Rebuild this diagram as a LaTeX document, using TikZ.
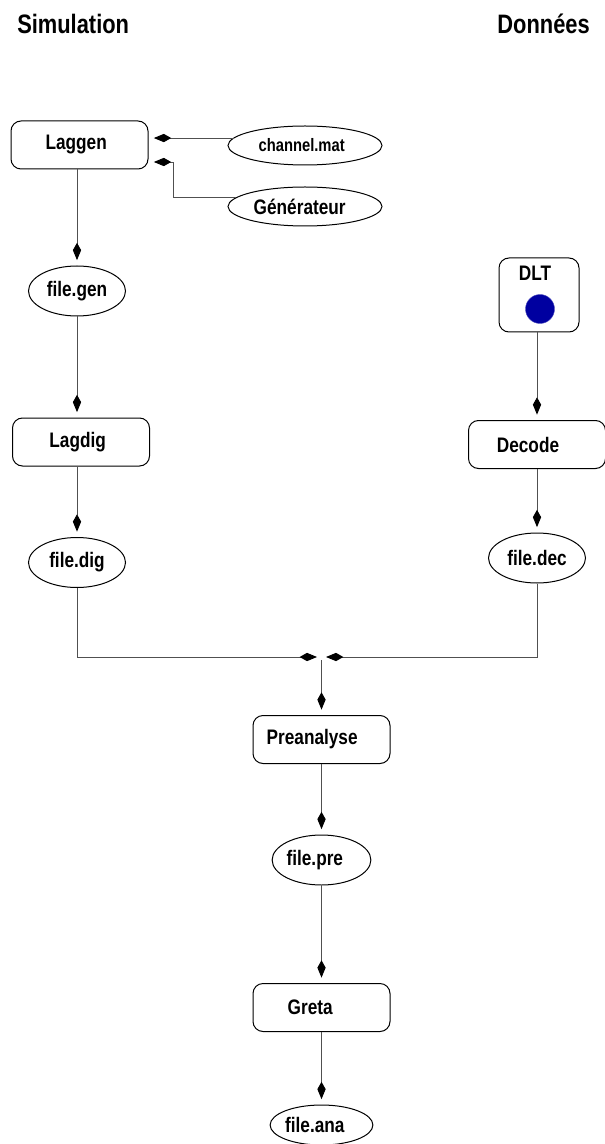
\documentclass[tikz,border=0pt]{standalone}
\usepackage{fontspec}
\setmainfont{Liberation Sans}
\newfontfamily\narrowsans{Liberation Sans}[FakeStretch=0.82]
\usetikzlibrary{arrows.meta,shapes.geometric}
\definecolor{conn}{RGB}{80,80,80}
\definecolor{dotblue}{RGB}{0,0,160}
\tikzset{
  txt/.style={font=\narrowsans\bfseries\fontsize{15.75}{18}\selectfont},
  ttl/.style={font=\narrowsans\bfseries\fontsize{20}{24}\selectfont},
  smalltxt/.style={font=\narrowsans\bfseries\fontsize{13.5}{16}\selectfont},
  box/.style={txt, draw=black, line width=0.75pt, rounded corners=7.5pt,
    minimum width=102.75pt, minimum height=36pt, inner sep=0pt},
  oval/.style={txt, ellipse, draw=black, line width=0.75pt,
    minimum width=72.75pt, minimum height=37.5pt, inner sep=0pt},
  bigoval/.style={oval, minimum width=115.5pt, minimum height=29.25pt},
  arr/.style={draw=conn, line width=0.7pt,
    -{Kite[length=13pt,width=6.2pt,inset=5.5pt,color=black]}, shorten >=4pt},
}
\begin{document}
\begin{tikzpicture}[x=0.75pt,y=-0.75pt]
\useasboundingbox (0,0) rectangle (605,1144);
% titles
\node[ttl, anchor=base west, inner sep=0pt] (sim) at (17,34) {Simulation};
\node[ttl, anchor=base east, inner sep=0pt] (don) at (590,34) {Données};
% left column
\node[box] (laggen) at (79.5,145) {Laggen\kern5pt};
\node[bigoval, smalltxt] (cm) at (305,145.5) {channel.mat\kern5pt};
\node[bigoval] (gen) at (305,206.5) {Générateur\kern8pt};
\node[oval] (fgen) at (77,291) {file.gen};
\node[box] (lagdig) at (81,442) {Lagdig\kern5pt};
\node[oval] (fdig) at (77,562.5) {file.dig};
% right column
\node[box, minimum width=60pt, minimum height=55.5pt] (dlt) at (539,295) {};
\node[txt, inner sep=0pt] (dlttxt) at (535,273.5) {DLT};
\node[circle, fill=dotblue, draw=dotblue!70!white, line width=0.3pt,
  minimum size=21.75pt, inner sep=0pt] (dot) at (540,309) {};
\node[box] (decode) at (537,444.5) {Decode\kern13.5pt};
\node[oval] (fdec) at (537,558) {file.dec};
% centre column
\node[box] (pre) at (321.5,739.5) {Preanalyse\kern14pt};
\node[oval] (fpre) at (321.5,860) {file.pre\kern10pt};
\node[box] (greta) at (321.5,1007.5) {Greta\kern17pt};
\node[oval, minimum height=30pt] (fana) at (321.5,1125) {file.ana\kern10pt};
% connectors: inputs to Laggen
\coordinate (c1) at ([shift={(4.5pt,5.6pt)}]cm.west);
\draw[arr] (c1) -- (c1 -| laggen.east);
\coordinate (g0) at ([shift={(6.5pt,6.4pt)}]gen.west);
\coordinate (g1) at (173,162);
\draw[arr] (g0) -- (g0 -| g1) -- (g1) -- (g1 -| laggen.east);
% left chain
\draw[arr] (laggen.south -| fgen) -- (fgen);
\draw[arr] (fgen) -- (fgen |- lagdig.north);
\draw[arr] (lagdig.south -| fdig) -- (fdig);
% right chain
\draw[arr] (dlt.south -| decode) -- (decode);
\draw[arr] (decode) -- (fdec);
% merge
\coordinate (ml) at (77,657);
\coordinate (jl) at (317,657);
\coordinate (mr) at (537,657);
\coordinate (jr) at (326,657);
\coordinate (jv) at (321.5,660);
\draw[arr, shorten >=0pt] (fdig) -- (ml) -- (jl);
\draw[arr, shorten >=0pt] (fdec) -- (mr) -- (jr);
\draw[arr] (jv) -- (pre);
% centre chain
\draw[arr] (pre) -- (fpre);
\draw[arr] (fpre) -- (greta);
\draw[arr] (greta) -- (fana);
\end{tikzpicture}
\end{document}
